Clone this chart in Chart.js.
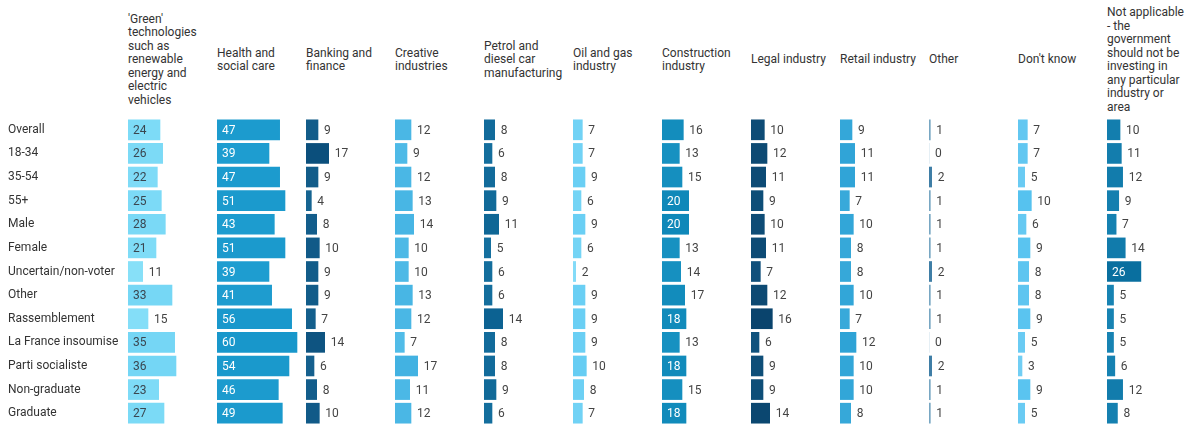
<!DOCTYPE html>
<html>
<head>
<meta charset="utf-8">
<script src="https://cdn.jsdelivr.net/npm/chart.js@4.4.1/dist/chart.umd.min.js"></script>
<style>
  body { margin: 0; background: #fff; font-family: Roboto, "Noto Sans", sans-serif; }
  #wrap { position: relative; width: 1194px; height: 427px; overflow: hidden; }
  .head {
    position: absolute; top: 0; height: 120px;
    display: flex; align-items: center;
    font-size: 12px; line-height: 13.5px; color: #333; white-space: pre;
  }
  .col { position: absolute; top: 118px; }
</style>
</head>
<body>
<div id="wrap"></div>
<script>
// 行ラベル
const rows = ["Overall", "18-34", "35-54", "55+", "Male", "Female", "Uncertain/non-voter",
  "Other", "Rassemblement", "La France insoumise", "Parti socialiste", "Non-graduate", "Graduate"];

// 列見出し（改行は元の折り返しに合わせる）
const headers = [
  "'Green'\ntechnologies\nsuch as\nrenewable\nenergy and\nelectric\nvehicles",
  "Health and\nsocial care",
  "Banking and\nfinance",
  "Creative\nindustries",
  "Petrol and\ndiesel car\nmanufacturing",
  "Oil and gas\nindustry",
  "Construction\nindustry",
  "Legal industry",
  "Retail industry",
  "Other",
  "Don't know",
  "Not applicable\n- the\ngovernment\nshould not be\ninvesting in\nany particular\nindustry or\narea"
];

// 値 (%)
const green         = [24, 26, 22, 25, 28, 21, 11, 33, 15, 35, 36, 23, 27];
const health        = [47, 39, 47, 51, 43, 51, 39, 41, 56, 60, 54, 46, 49];
const banking       = [9, 17, 9, 4, 8, 10, 9, 9, 7, 14, 6, 8, 10];
const creative      = [12, 9, 12, 13, 14, 10, 10, 13, 12, 7, 17, 11, 12];
const petrol        = [8, 6, 8, 9, 11, 5, 6, 6, 14, 8, 8, 9, 6];
const oilGas        = [7, 7, 9, 6, 9, 6, 2, 9, 9, 9, 10, 8, 7];
const construction  = [16, 13, 15, 20, 20, 13, 14, 17, 18, 13, 18, 15, 18];
const legal         = [10, 12, 11, 9, 10, 11, 7, 12, 16, 6, 9, 9, 14];
const retail        = [9, 11, 11, 7, 10, 8, 8, 10, 7, 12, 10, 10, 8];
const otherInd      = [1, 0, 2, 1, 1, 1, 2, 1, 1, 0, 2, 1, 1];
const dontKnow      = [7, 7, 5, 10, 6, 9, 8, 8, 9, 5, 3, 9, 5];
const notApplicable = [10, 11, 12, 9, 7, 14, 26, 5, 5, 5, 6, 12, 8];

const series = [green, health, banking, creative, petrol, oilGas, construction,
  legal, retail, otherInd, dontKnow, notApplicable];

// 列ごとの色（小さい値 → 大きい値）
const colors = [
  ["#8fe4fa", "#74d6f5"],
  ["#2aa8d8", "#1897cb"],
  ["#1a6a98", "#0b4f7c"],
  ["#5cc3ec", "#42b2e2"],
  ["#1a77a6", "#0c6292"],
  ["#8adef9", "#66cdf3"],
  ["#25a2cf", "#0f88b9"],
  ["#145a86", "#0a446d"],
  ["#45b2e0", "#2ea3d6"],
  ["#b0cfe0", "#3f7ea6"],
  ["#7dd3f6", "#56c2ef"],
  ["#1a88b8", "#096f9f"]
];
// 中に数字を書くときの色
const insideText = ["#3a4650", "#fff", "#fff", "#fff", "#fff", "#fff", "#fff", "#fff", "#fff", "#fff", "#fff", "#fff"];

function hexToRgb(h) {
  const n = parseInt(h.slice(1), 16);
  return [(n >> 16) & 255, (n >> 8) & 255, n & 255];
}
function mix(a, b, t) {
  const A = hexToRgb(a), B = hexToRgb(b);
  const c = A.map((v, i) => Math.round(v + (B[i] - v) * t));
  return `rgb(${c[0]},${c[1]},${c[2]})`;
}

const valueLabels = {
  id: "valueLabels",
  afterDatasetsDraw(chart, args, opts) {
    const { ctx } = chart;
    const meta = chart.getDatasetMeta(0);
    const vals = chart.data.datasets[0].data;
    ctx.save();
    ctx.font = "12px Roboto";
    ctx.textBaseline = "middle";
    ctx.textAlign = "left";
    meta.data.forEach((bar, i) => {
      const v = vals[i];
      const inside = v >= 18;
      ctx.fillStyle = inside ? opts.inside : "#444";
      const x = inside ? bar.base + 5 : bar.x + 6;
      ctx.fillText(String(v), x, bar.y + 1);
    });
    ctx.restore();
  }
};

const wrap = document.getElementById("wrap");
const COL0 = 128, STEP = 89, PX_PER_UNIT = 1.333;
const H = 307;

series.forEach((data, c) => {
  const left = COL0 + STEP * c;

  const head = document.createElement("div");
  head.className = "head";
  head.style.left = left + "px";
  head.textContent = headers[c];
  wrap.appendChild(head);

  const first = c === 0;
  const box = document.createElement("div");
  box.className = "col";
  const w = first ? COL0 + STEP : Math.min(STEP, 1194 - left);
  box.style.left = (first ? 0 : left) + "px";
  const cv = document.createElement("canvas");
  cv.width = w; cv.height = H;
  cv.style.width = w + "px"; cv.style.height = H + "px";
  box.appendChild(cv);
  wrap.appendChild(box);

  const colMax = Math.max(...data);
  new Chart(cv, {
    type: "bar",
    data: {
      labels: rows,
      datasets: [{
        data: data,
        backgroundColor: (ctx) => mix(colors[c][0], colors[c][1], (ctx.raw || 0) / colMax),
        borderWidth: 0,
        barThickness: 20
      }]
    },
    options: {
      indexAxis: "y",
      responsive: false,
      animation: false,
      layout: { padding: { left: first ? 8 : 0, right: 0, top: 0, bottom: 0 } },
      scales: {
        x: { display: false, min: 0, max: STEP / PX_PER_UNIT },
        y: {
          display: first,
          grid: { display: false, drawTicks: false },
          border: { display: false },
          ticks: {
            crossAlign: "far",
            padding: 0,
            color: "#333",
            font: { family: "Roboto", size: 12 }
          },
          afterFit: (s) => {
            if (!first) return;
            s.width = COL0 - 8;
            s.paddingTop = 0;
            s.paddingBottom = 0;
          }
        }
      },
      plugins: {
        legend: { display: false },
        tooltip: { enabled: false },
        valueLabels: { inside: insideText[c] }
      }
    },
    plugins: [valueLabels]
  });
});
</script>
</body>
</html>
